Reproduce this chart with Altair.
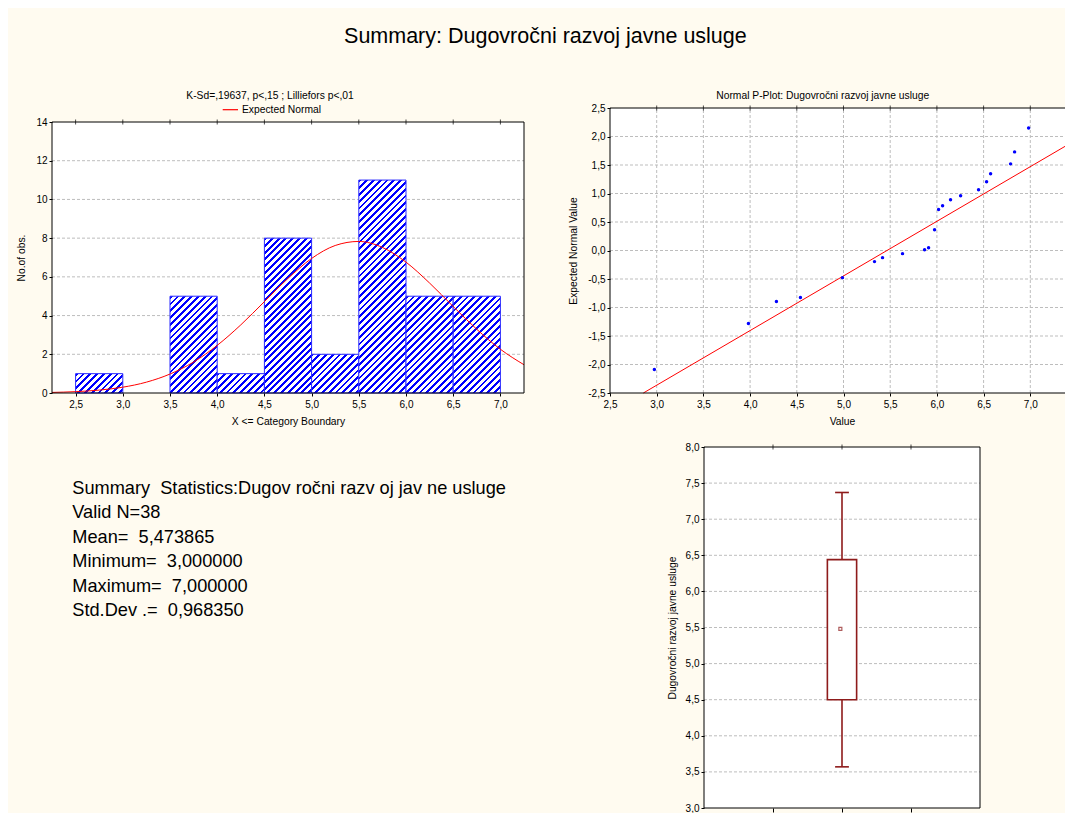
import altair as alt
import pandas as pd

# ---------------- values ----------------
hist_lo = [2.5, 3.0, 3.5, 4.0, 4.5, 5.0, 5.5, 6.0, 6.5]
hist_hi = [3.0, 3.5, 4.0, 4.5, 5.0, 5.5, 6.0, 6.5, 7.0]
hist_count = [1, 0, 5, 1, 8, 2, 11, 5, 5]

normal_x = [2.25, 2.5, 2.75, 3.0, 3.25, 3.5, 3.75, 4.0, 4.25, 4.5, 4.75,
            5.0, 5.25, 5.5, 5.75, 6.0, 6.25, 6.5, 6.75, 7.0, 7.25]
normal_y = [0.03, 0.07, 0.15, 0.30, 0.56, 0.98, 1.60, 2.46, 3.52, 4.72, 5.92,
            6.95, 7.62, 7.83, 7.52, 6.76, 5.68, 4.47, 3.29, 2.26, 1.46]

pp_value = [2.975, 3.982, 4.282, 4.539, 4.989, 5.332, 5.418, 5.632, 5.868, 5.911,
            5.975, 6.018, 6.061, 6.146, 6.254, 6.446, 6.532, 6.575, 6.789, 6.832, 6.982]
pp_expected = [-2.086, -1.281, -0.896, -0.826, -0.476, -0.195, -0.125, -0.055, 0.015, 0.050,
               0.365, 0.718, 0.785, 0.890, 0.960, 1.065, 1.205, 1.345, 1.520, 1.730, 2.150]
pp_line_value = [2.857, 7.5]
pp_line_expected = [-2.5, 1.95]

box_mean = [5.48]
box_low = [4.50]
box_high = [6.44]
whisker_low = [3.57]
whisker_high = [7.37]

hist_x_ticks = [2.5, 3.0, 3.5, 4.0, 4.5, 5.0, 5.5, 6.0, 6.5, 7.0]
hist_y_ticks = [0, 2, 4, 6, 8, 10, 12, 14]
hist_grid = [2, 4, 6, 8, 10, 12]
pp_x_ticks = [2.5, 3.0, 3.5, 4.0, 4.5, 5.0, 5.5, 6.0, 6.5, 7.0]
pp_y_ticks = [-2.5, -2.0, -1.5, -1.0, -0.5, 0.0, 0.5, 1.0, 1.5, 2.0, 2.5]
pp_x_grid = [3.0, 3.5, 4.0, 4.5, 5.0, 5.5, 6.0, 6.5, 7.0]
pp_y_grid = [-2.0, -1.5, -1.0, -0.5, 0.0, 0.5, 1.0, 1.5, 2.0]
box_y_ticks = [3.0, 3.5, 4.0, 4.5, 5.0, 5.5, 6.0, 6.5, 7.0, 7.5, 8.0]
box_grid = [3.5, 4.0, 4.5, 5.0, 5.5, 6.0, 6.5, 7.0, 7.5]
box_x_ticks = [0.25, 0.5, 0.75]

NB = "\u00a0"
main_title = "Summary: Dugovročni razvoj javne usluge"
hist_note = "K-Sd=,19637, p<,15 ; Lilliefors p<,01"
legend_label = "Expected Normal"
pp_title = "Normal P-Plot: Dugovročni razvoj javne usluge"
stats_lines = [
    "Summary" + NB + " Statistics:Dugov ročni razv oj jav ne usluge",
    "Valid N=38",
    "Mean=" + NB + " 5,473865",
    "Minimum=" + NB + " 3,000000",
    "Maximum=" + NB + " 7,000000",
    "Std.Dev .=" + NB + " 0,968350",
]

# ---------------- layout / style ----------------
W, H = 1057, 805
FONT = "Liberation Sans"
BG = "#FFFBF0"
INK = "#000000"
GRID = "#BDBDBD"
BLUE = "#0000FF"
RED = "#FF0000"
BOXC = "#8E1B1B"

HIST_DOM_X, HIST_RNG_X = [2.25, 7.25], [44, 516]
HIST_DOM_Y, HIST_RNG_Y = [0, 14], [385, 114]
PP_DOM_X, PP_RNG_X = [2.5, 7.5], [602, 1069]
PP_DOM_Y, PP_RNG_Y = [-2.5, 2.5], [385, 100]
BOX_DOM_X, BOX_RNG_X = [0, 1], [696, 972]
BOX_DOM_Y, BOX_RNG_Y = [3, 8], [800, 439]
BOX_C, BOX_HALF, CAP_HALF = 0.5, 0.053, 0.025

COMMA = "(datum.value < 0 ? '-' : '') + replace(format(abs(datum.value), '.1f'), '.', ',')"


def sc(dom, rng):
    return alt.Scale(domain=dom, range=rng, nice=False, zero=False)


def axis(orient, offset, values, title=None, tx=0, ty=0, label_expr=None, labels=True, tick=3):
    kw = dict(orient=orient, offset=offset, values=values, grid=False, domain=False,
              ticks=True, tickSize=tick, tickColor=INK, tickWidth=1, labels=labels,
              labelFont=FONT, labelFontSize=10, labelColor=INK,
              labelPadding=3 if orient == "bottom" else 2,
              labelFlush=False, labelOverlap=False, zindex=1)
    if labels and label_expr:
        kw["labelExpr"] = label_expr
    if title:
        kw.update(title=title, titleX=tx, titleY=ty, titleBaseline="middle", titleAlign="center",
                  titleFont=FONT, titleFontSize=10.3, titleFontWeight="normal", titleColor=INK)
        if orient == "left":
            kw["titleAngle"] = 270
    else:
        kw["title"] = None
    return alt.Axis(**kw)


one = pd.DataFrame({"k": [0]})


class Panel:
    def __init__(self, dx, rx, dy, ry, ax, ay):
        self.dx, self.dy = dx, dy
        self.sx, self.sy = sc(dx, rx), sc(dy, ry)
        self.ax, self.ay = ax, ay

    def X(self, field):
        return alt.X(field, scale=self.sx, axis=self.ax)

    def Y(self, field):
        return alt.Y(field, scale=self.sy, axis=self.ay)

    def XD(self, v):
        return alt.XDatum(datum=v, scale=self.sx, axis=self.ax)

    def YD(self, v):
        return alt.YDatum(datum=v, scale=self.sy, axis=self.ay)

    def frame(self, outline=False):
        mk = (alt.Chart(one).mark_rect(fillOpacity=0, stroke=INK, strokeWidth=1) if outline
              else alt.Chart(one).mark_rect(fill="white", strokeWidth=0))
        return mk.encode(x=self.XD(self.dx[0]), x2=alt.X2Datum(datum=self.dx[1]),
                         y=self.YD(self.dy[0]), y2=alt.Y2Datum(datum=self.dy[1]))

    def top_ticks(self, vals):
        return alt.Chart(pd.DataFrame({"t": vals})).mark_tick(
            orient="vertical", size=5, thickness=1, color=INK).encode(
            x=self.X("t:Q"), y=self.YD(self.dy[1]))

    def hgrid(self, vals):
        return alt.Chart(pd.DataFrame({"g": vals})).mark_rule(
            color=GRID, strokeDash=[3, 2], strokeWidth=1).encode(
            y=self.Y("g:Q"), x=self.XD(self.dx[0]), x2=alt.X2Datum(datum=self.dx[1]))

    def vgrid(self, vals):
        return alt.Chart(pd.DataFrame({"g": vals})).mark_rule(
            color=GRID, strokeDash=[3, 2], strokeWidth=1).encode(
            x=self.X("g:Q"), y=self.YD(self.dy[0]), y2=alt.Y2Datum(datum=self.dy[1]))


def stripes(w, h, period=6.8, blue_w=2.9):
    total = w + h
    stops = []
    pos = 0.0
    while pos < total - 1e-9:
        a = pos / total
        b = min((pos + blue_w) / total, 1.0)
        c = min((pos + period) / total, 1.0)
        stops += [{"offset": a, "color": BLUE}, {"offset": b, "color": BLUE},
                  {"offset": b, "color": "#FFFFFF"}, {"offset": c, "color": "#FFFFFF"}]
        pos += period
    d = w * w + h * h
    return {"gradient": "linear", "x1": 0, "y1": 0,
            "x2": w * total / d, "y2": h * total / d, "stops": stops}


# ---------------- histogram panel ----------------
hp = Panel(HIST_DOM_X, HIST_RNG_X, HIST_DOM_Y, HIST_RNG_Y,
           axis("bottom", HIST_RNG_Y[0] - H, hist_x_ticks, "X <= Category Boundary",
                (HIST_RNG_X[0] + HIST_RNG_X[1]) / 2, 28.7, label_expr=COMMA),
           axis("left", -HIST_RNG_X[0], hist_y_ticks, "No.of obs.", -31,
                (HIST_RNG_Y[0] + HIST_RNG_Y[1]) / 2))
px_x = (HIST_RNG_X[1] - HIST_RNG_X[0]) / (HIST_DOM_X[1] - HIST_DOM_X[0])
px_y = (HIST_RNG_Y[0] - HIST_RNG_Y[1]) / (HIST_DOM_Y[1] - HIST_DOM_Y[0])

hist_layers = [hp.frame(), hp.hgrid(hist_grid)]
for lo, hi, c in zip(hist_lo, hist_hi, hist_count):
    if c == 0:
        continue
    grad = stripes((hi - lo) * px_x, c * px_y)
    df = pd.DataFrame({"lo": [lo], "hi": [hi], "count": [c]})
    hist_layers.append(
        alt.Chart(df).mark_rect(fill=grad, stroke="#2A2AFF", strokeWidth=1).encode(
            x=hp.X("lo:Q"), x2="hi:Q", y=hp.Y("count:Q"), y2=alt.Y2Datum(datum=0)))
hist_layers.append(
    alt.Chart(pd.DataFrame({"x": normal_x, "y": normal_y})).mark_line(
        color=RED, strokeWidth=1, interpolate="monotone").encode(
        x=hp.X("x:Q"), y=hp.Y("y:Q")))
hist_layers.append(hp.frame(outline=True))
hist_layers.append(hp.top_ticks(hist_x_ticks))
hist_panel = alt.layer(*hist_layers)

# ---------------- normal probability plot panel ----------------
pp = Panel(PP_DOM_X, PP_RNG_X, PP_DOM_Y, PP_RNG_Y,
           axis("bottom", PP_RNG_Y[0] - H, pp_x_ticks, "Value", 834, 28.4, label_expr=COMMA),
           axis("left", -PP_RNG_X[0], pp_y_ticks, "Expected Normal Value", -37,
                (PP_RNG_Y[0] + PP_RNG_Y[1]) / 2, label_expr=COMMA))
pp_panel = alt.layer(
    pp.frame(),
    pp.vgrid(pp_x_grid),
    pp.hgrid(pp_y_grid),
    alt.Chart(pd.DataFrame({"v": pp_line_value, "e": pp_line_expected})).mark_line(
        color=RED, strokeWidth=1).encode(x=pp.X("v:Q"), y=pp.Y("e:Q")),
    alt.Chart(pd.DataFrame({"v": pp_value, "e": pp_expected})).mark_circle(
        color=BLUE, size=12, opacity=1).encode(x=pp.X("v:Q"), y=pp.Y("e:Q")),
    pp.frame(outline=True),
    pp.top_ticks(pp_x_grid),
)

# ---------------- box plot panel ----------------
bp = Panel(BOX_DOM_X, BOX_RNG_X, BOX_DOM_Y, BOX_RNG_Y,
           axis("bottom", BOX_RNG_Y[0] - H, box_x_ticks, labels=False, tick=4),
           axis("left", -BOX_RNG_X[0], box_y_ticks, "Dugovročni razvoj javne usluge", -32,
                (BOX_RNG_Y[0] + BOX_RNG_Y[1]) / 2, label_expr=COMMA))
box_df = pd.DataFrame({"mean": box_mean, "lo": box_low, "hi": box_high,
                       "wlo": whisker_low, "whi": whisker_high})
bb = alt.Chart(box_df)
box_panel = alt.layer(
    bp.frame(),
    bp.hgrid(box_grid),
    bb.mark_rule(color=BOXC, strokeWidth=1.6).encode(
        x=bp.XD(BOX_C), y=bp.Y("wlo:Q"), y2="lo:Q"),
    bb.mark_rule(color=BOXC, strokeWidth=1.6).encode(
        x=bp.XD(BOX_C), y=bp.Y("hi:Q"), y2="whi:Q"),
    bb.mark_rule(color=BOXC, strokeWidth=1.6).encode(
        x=bp.XD(BOX_C - CAP_HALF), x2=alt.X2Datum(datum=BOX_C + CAP_HALF), y=bp.Y("wlo:Q")),
    bb.mark_rule(color=BOXC, strokeWidth=1.6).encode(
        x=bp.XD(BOX_C - CAP_HALF), x2=alt.X2Datum(datum=BOX_C + CAP_HALF), y=bp.Y("whi:Q")),
    bb.mark_rect(fill="white", stroke=BOXC, strokeWidth=1.6).encode(
        x=bp.XD(BOX_C - BOX_HALF), x2=alt.X2Datum(datum=BOX_C + BOX_HALF),
        y=bp.Y("lo:Q"), y2="hi:Q"),
    bb.mark_point(shape="square", size=9, filled=False, color=BOXC, strokeWidth=1.2).encode(
        x=bp.XD(BOX_C - 0.006), y=bp.Y("mean:Q")),
    bp.frame(outline=True),
    bp.top_ticks(box_x_ticks),
)


# ---------------- free texts ----------------
def label(text, x, y, size, align="center"):
    return alt.Chart(one).mark_text(text=text, font=FONT, fontSize=size, color=INK,
                                    align=align, baseline="alphabetic").encode(
        x=alt.value(x), y=alt.value(y))


texts = [
    label(main_title, 537.4, 35.3, 21.5),
    label(hist_note, 262, 91, 10.3),
    alt.Chart(one).mark_rule(color=RED, strokeWidth=1.2).encode(
        x=alt.value(214.7), x2=alt.value(230), y=alt.value(101.7)),
    label(legend_label, 234, 105, 10.3, align="left"),
    label(pp_title, 814.7, 91, 10.3),
    alt.Chart(one).mark_text(text="\n".join(stats_lines), lineBreak="\n", lineHeight=24.5,
                             font=FONT, fontSize=18.2, color=INK, align="left",
                             baseline="alphabetic").encode(x=alt.value(64.3), y=alt.value(485.8)),
]

chart = alt.layer(hist_panel, pp_panel, box_panel, *texts).resolve_scale(
    x="independent", y="independent"
).properties(
    width=W, height=H, padding=0, background=BG,
    autosize=alt.AutoSizeParams(type="none"),
).configure(font=FONT).configure_view(stroke="transparent")

chart.save("out.html", embed_options={"renderer": "svg", "actions": False})
